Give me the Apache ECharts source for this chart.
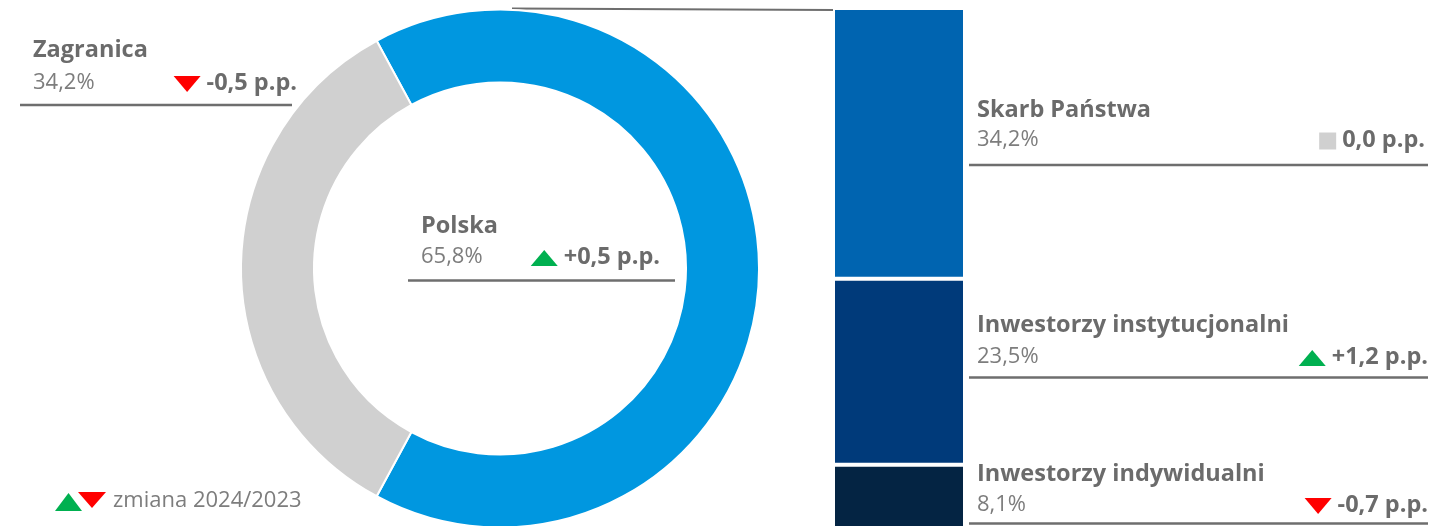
<!DOCTYPE html>
<html>
<head>
<meta charset="utf-8">
<script src="https://cdn.jsdelivr.net/npm/echarts@6/dist/echarts.min.js"></script>
<style>
  html, body { margin: 0; padding: 0; background: #fff; }
  #chart { width: 1430px; height: 526px; }
</style>
</head>
<body>
<div id="chart"></div>
<script>
// Struktura akcjonariatu: podział Polska / Zagranica oraz rozbicie udziału krajowego
const pieNames = ['Polska', 'Zagranica'];
const pieValues = [65.8, 34.2];
const pieChanges = [0.5, -0.5];

const barNames = ['Skarb Państwa', 'Inwestorzy instytucjonalni', 'Inwestorzy indywidualni'];
const barValues = [34.2, 23.5, 8.1];
const barChanges = [0.0, 1.2, -0.7];

const legendText = 'zmiana 2024/2023';

// --- styling / layout constants ---
const pieColors = ['#0097e0', '#d0d0d0'];
const barColors = ['#0064b0', '#003a7a', '#042443'];
const UP = '#00b050', DOWN = '#ff0000', FLAT = '#d0d0d0';
const NAME_COLOR = '#6b6b6b', PCT_COLOR = '#7d7d7d', RULE_COLOR = '#6e6e6e';
const FONT = '"Open Sans", "Noto Sans", sans-serif';
const NAME_SIZE = 23.5, PCT_SIZE = 22, CHG_SIZE = 23.5;

const pieCenter = [500, 268.5];
const pieRadius = [186, 259];
const grid = { left: 833, top: 8, width: 132, height: 521 };

const fmtPct = v => v.toFixed(1).replace('.', ',') + '%';
const fmtChg = v => (v > 0 ? '+' : (v < 0 ? '-' : '')) + Math.abs(v).toFixed(1).replace('.', ',') + ' p.p.';

const measureCtx = document.createElement('canvas').getContext('2d');
function textWidth(str, size, weight) {
  measureCtx.font = weight + ' ' + size + 'px ' + FONT;
  return measureCtx.measureText(str).width;
}

// change marker: triangle up / down, or square for no change
function marker(change, cx, cy) {
  if (change > 0) {
    return { type: 'polygon', shape: { points: [[cx - 13.5, cy + 8], [cx + 13.5, cy + 8], [cx, cy - 8]] },
             style: { fill: UP } };
  }
  if (change < 0) {
    return { type: 'polygon', shape: { points: [[cx - 13.5, cy - 8], [cx + 13.5, cy - 8], [cx, cy + 8]] },
             style: { fill: DOWN } };
  }
  return { type: 'rect', shape: { x: cx - 8.5, y: cy - 8.5, width: 17, height: 17 }, style: { fill: FLAT } };
}

// one label block: name, share, change with marker, rule underneath
function labelBlock(b, name, value, change) {
  const chg = fmtChg(change);
  const w = textWidth(chg, CHG_SIZE, 'bold');
  const markerW = change === 0 ? 17 : 27;
  const mx = b.right - w - 6 - markerW / 2;
  return [
    { type: 'text', x: b.x, y: b.yName,
      style: { text: name, font: 'bold ' + NAME_SIZE + 'px ' + FONT, fill: NAME_COLOR,
               align: 'left', verticalAlign: 'middle' } },
    { type: 'text', x: b.x, y: b.yPct,
      style: { text: fmtPct(value), font: 'normal ' + PCT_SIZE + 'px ' + FONT, fill: PCT_COLOR,
               align: 'left', verticalAlign: 'middle' } },
    { type: 'text', x: b.right, y: b.yPct,
      style: { text: chg, font: 'bold ' + CHG_SIZE + 'px ' + FONT, fill: NAME_COLOR,
               align: 'right', verticalAlign: 'middle' } },
    marker(change, mx, b.yPct + 1),
    { type: 'line', shape: { x1: b.l1, y1: b.ly, x2: b.l2, y2: b.ly },
      style: { stroke: RULE_COLOR, lineWidth: 2.5 } }
  ];
}

const pieBlocks = [
  { x: 421, yName: 226, yPct: 257, right: 660, l1: 408, l2: 675, ly: 280.5 },
  { x: 33, yName: 50, yPct: 83, right: 297, l1: 20, l2: 292, ly: 105 }
];
const barBlocks = [
  { x: 977, yName: 110.5, yPct: 140, right: 1425, l1: 969, l2: 1428, ly: 165 },
  { x: 977, yName: 325.5, yPct: 357, right: 1428, l1: 969, l2: 1428, ly: 377.5 },
  { x: 977, yName: 474, yPct: 505, right: 1428, l1: 969, l2: 1428, ly: 523.5 }
];

const total = barValues.reduce((a, b) => a + b, 0);
const zagranicaShare = pieValues[1] / (pieValues[0] + pieValues[1]);

const graphics = [];
pieNames.forEach((n, i) => graphics.push(...labelBlock(pieBlocks[i], n, pieValues[i], pieChanges[i])));
barNames.forEach((n, i) => graphics.push(...labelBlock(barBlocks[i], n, barValues[i], barChanges[i])));

// connector from the top of the ring to the top of the stacked column
graphics.push({ type: 'line',
  shape: { x1: pieCenter[0] + 12, y1: pieCenter[1] - pieRadius[1] - 1, x2: grid.left + 1, y2: grid.top + 2 },
  style: { stroke: RULE_COLOR, lineWidth: 2 } });

// legend for the change markers
graphics.push(
  { type: 'polygon', shape: { points: [[55, 511], [82, 511], [68.5, 493]] }, style: { fill: UP } },
  { type: 'polygon', shape: { points: [[78, 492], [106, 492], [92, 508]] }, style: { fill: DOWN } },
  { type: 'text', x: 113, y: 501,
    style: { text: legendText, font: 'normal 22px ' + FONT, fill: PCT_COLOR, align: 'left', verticalAlign: 'middle' } }
);

const chart = echarts.init(document.getElementById('chart'), null, { renderer: 'canvas' });
chart.setOption({
  animation: false,
  grid: { left: grid.left, top: grid.top, width: grid.width, height: grid.height,
          containLabel: false, outerBoundsMode: 'none' },
  xAxis: { type: 'category', data: ['udział'], show: false },
  yAxis: { type: 'value', min: 0, max: total, inverse: true, show: false },
  series: [
    {
      type: 'pie',
      center: pieCenter,
      radius: pieRadius,
      startAngle: 180 - zagranicaShare * 180,
      clockwise: true,
      silent: true,
      label: { show: false },
      labelLine: { show: false },
      itemStyle: { borderColor: '#fff', borderWidth: 2 },
      data: pieNames.map((n, i) => ({ name: n, value: pieValues[i], itemStyle: { color: pieColors[i] } }))
    },
    ...barNames.map((n, i) => ({
      type: 'bar',
      name: n,
      stack: 'polska',
      barWidth: '100%',
      silent: true,
      itemStyle: { color: barColors[i], borderColor: '#fff', borderWidth: 2 },
      data: [barValues[i]]
    }))
  ],
  graphic: graphics
});
</script>
</body>
</html>
